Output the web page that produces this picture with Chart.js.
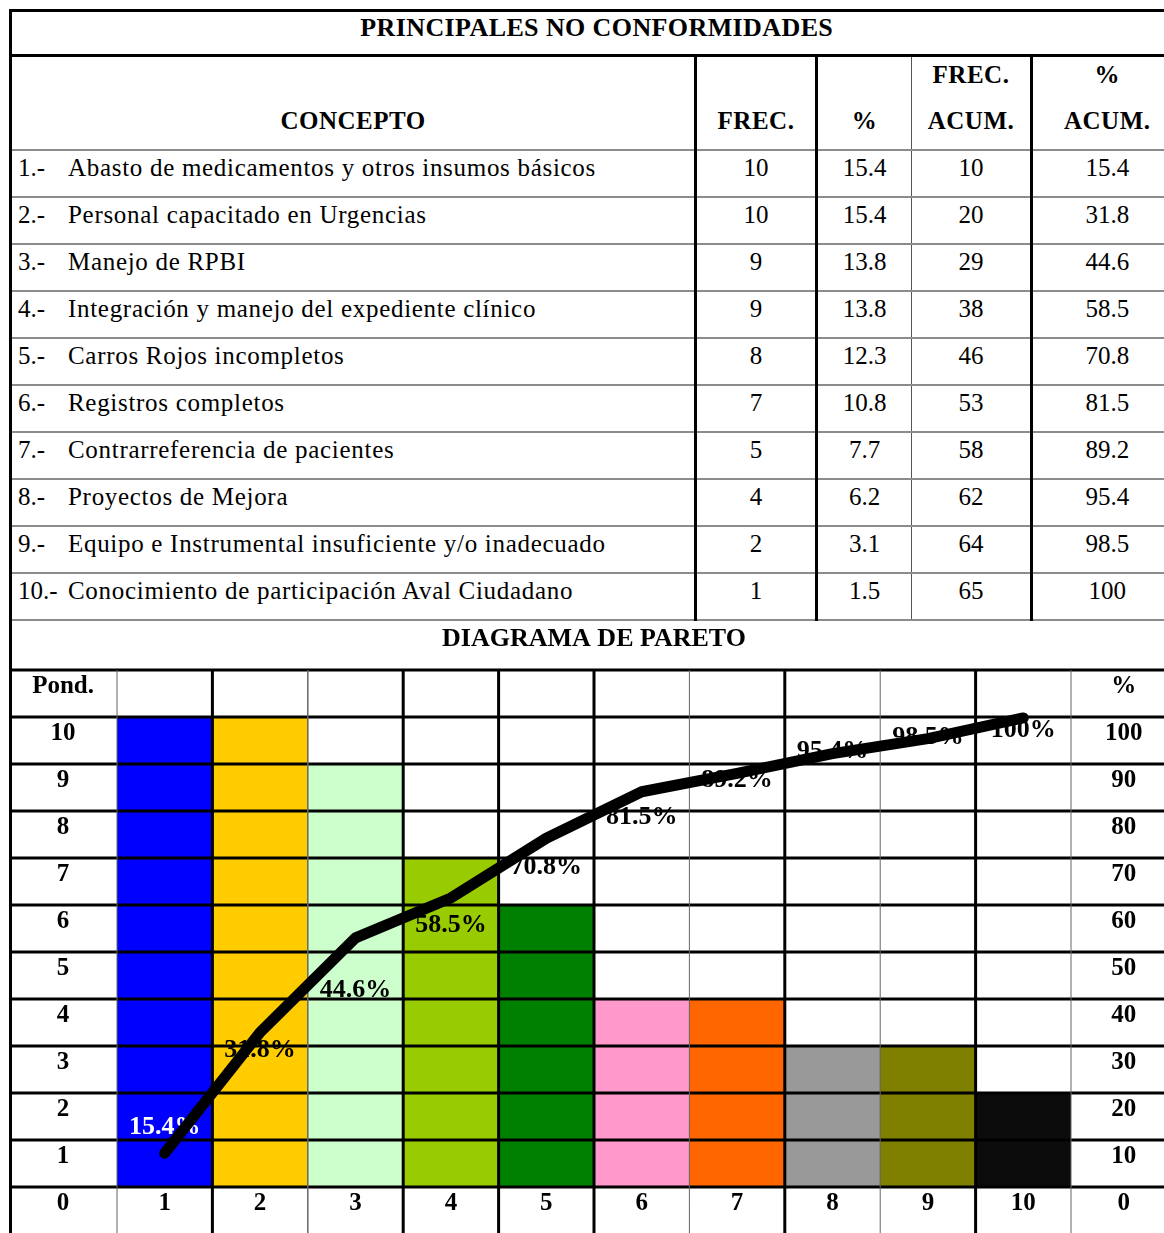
<!DOCTYPE html>
<html lang="es">
<head>
<meta charset="utf-8">
<title>Principales no conformidades</title>
<script src="https://cdn.jsdelivr.net/npm/chart.js@4.4.1/dist/chart.umd.min.js"></script>
<style>
  html, body { margin: 0; padding: 0; background: #fff; overflow: hidden; }
  body { width: 1164px; height: 1233px; position: relative; font-family: "Liberation Serif", "Times New Roman", serif; color: #000; }
  #tabla { position: absolute; left: 9px; top: 9px; width: 1171px; border-collapse: collapse; table-layout: fixed;
           font-size: 25px; border-top: 3px solid #000; border-left: 3px solid #000; }
  #tabla td { padding: 0; vertical-align: top; border-bottom: 2px solid #8c8c8c; }
  #tabla .titulo td { border-bottom: 3px solid #000; font-weight: bold; font-size: 26px; text-align: center;
                      height: 41px; line-height: 30px; padding-top: 1px; letter-spacing: 0.4px; }
  #tabla .enc td { font-weight: bold; text-align: center; letter-spacing: 0.5px; }
  .l { height: 46px; box-sizing: border-box; padding-top: 3px; line-height: 30px; }
  #tabla .fila td { height: 43px; line-height: 30px; padding-top: 2px; text-align: center; }
  #tabla .fila td.desc { text-align: left; padding-left: 6px; letter-spacing: 0.7px; white-space: nowrap; }
  .num { display: inline-block; width: 50px; letter-spacing: 0; }
  .c1, .c2, .c4 { border-left: 3px solid #000; }
  .c3 { border-left: 1px solid #555; }
  #grafica { position: absolute; left: 9px; top: 621px; }
</style>
</head>
<body>
<table id="tabla">
  <colgroup><col style="width:685px"><col style="width:121px"><col style="width:95px"><col style="width:120px"><col style="width:150px"></colgroup>
  <tbody id="cuerpo"></tbody>
</table>
<canvas id="grafica" width="1170" height="619"></canvas>
<script>
// datos de la tabla
const conceptos = [
  "Abasto de medicamentos y otros insumos básicos",
  "Personal capacitado en Urgencias",
  "Manejo de RPBI",
  "Integración y manejo del expediente clínico",
  "Carros Rojos incompletos",
  "Registros completos",
  "Contrarreferencia de pacientes",
  "Proyectos de Mejora",
  "Equipo e Instrumental insuficiente y/o inadecuado",
  "Conocimiento de participación Aval Ciudadano"
];
const frecuencia = [10, 10, 9, 9, 8, 7, 5, 4, 2, 1];
const porcentaje = ["15.4", "15.4", "13.8", "13.8", "12.3", "10.8", "7.7", "6.2", "3.1", "1.5"];
const frecAcum = [10, 20, 29, 38, 46, 53, 58, 62, 64, 65];
const pctAcum = [15.4, 31.8, 44.6, 58.5, 70.8, 81.5, 89.2, 95.4, 98.5, 100];

// datos del diagrama (como se ven dibujados)
const categorias = ["1", "2", "3", "4", "5", "6", "7", "8", "9", "10"];
const ponderacion = [10, 10, 9, 7, 6, 4, 4, 3, 3, 2];
const trazoLinea = [7.2, 32.9, 53, 61.5, 74.2, 84.1, 88, 92.2, 95.4, 99.8];

// colores de las barras
const colores = ["#0000ff", "#ffcc00", "#ccffcc", "#99cc00", "#008000", "#ff99cc", "#ff6600", "#999999", "#808000", "#0c0c0c"];
// grosor de las divisiones verticales de la cuadricula
const anchoDivisiones = [1, 3, 1.5, 3, 3, 3, 1, 3, 1, 3, 1];

// arma la tabla de arriba
const cuerpo = document.getElementById("cuerpo");
let html = '<tr class="titulo"><td colspan="5">PRINCIPALES NO CONFORMIDADES</td></tr>';
html += '<tr class="enc">' +
  '<td><div class="l"></div><div class="l">CONCEPTO</div></td>' +
  '<td class="c1"><div class="l"></div><div class="l">FREC.</div></td>' +
  '<td class="c2"><div class="l"></div><div class="l">%</div></td>' +
  '<td class="c3"><div class="l">FREC.</div><div class="l">ACUM.</div></td>' +
  '<td class="c4"><div class="l">%</div><div class="l">ACUM.</div></td></tr>';
conceptos.forEach((c, i) => {
  html += '<tr class="fila"><td class="desc"><span class="num">' + (i + 1) + '.-</span>' + c + '</td>' +
    '<td class="c1">' + frecuencia[i] + '</td>' +
    '<td class="c2">' + porcentaje[i] + '</td>' +
    '<td class="c3">' + frecAcum[i] + '</td>' +
    '<td class="c4">' + pctAcum[i] + '</td></tr>';
});
cuerpo.innerHTML = html;

// cuadricula y porcentajes: encima de las barras, debajo de la linea
const lineasTabla = {
  id: "lineasTabla",
  afterDatasetDraw(chart, args) {
    if (args.index !== 0) return;
    const { ctx, chartArea } = chart;
    const x = chart.scales.x, y = chart.scales.y, y1 = chart.scales.y1;
    const W = chart.width, H = chart.height;
    ctx.save();
    ctx.strokeStyle = "#000";
    ctx.lineWidth = 3;
    for (let v = 0; v <= 11; v++) {
      const py = y.getPixelForValue(v);
      ctx.beginPath(); ctx.moveTo(0, py); ctx.lineTo(W, py); ctx.stroke();
    }
    const paso = (chartArea.right - chartArea.left) / categorias.length;
    for (let i = 0; i <= categorias.length; i++) {
      const px = chartArea.left + i * paso;
      ctx.lineWidth = anchoDivisiones[i];
      ctx.strokeStyle = anchoDivisiones[i] > 2 ? "#000" : "#666";
      ctx.beginPath(); ctx.moveTo(px, chartArea.top); ctx.lineTo(px, H); ctx.stroke();
    }
    // borde izquierdo
    ctx.lineWidth = 3; ctx.strokeStyle = "#000";
    ctx.beginPath(); ctx.moveTo(1.5, 0); ctx.lineTo(1.5, H); ctx.stroke();

    // porcentajes acumulados
    ctx.font = 'bold 26px "Liberation Serif"';
    ctx.textAlign = "center";
    ctx.textBaseline = "middle";
    pctAcum.forEach((v, i) => {
      ctx.fillStyle = i === 0 ? "#fff" : "#000";
      ctx.fillText(v + "%", x.getPixelForValue(i), y1.getPixelForValue(v) + 13);
    });
    ctx.restore();
  }
};

const fuenteEjes = { family: '"Liberation Serif", serif', size: 25, weight: "bold" };

new Chart(document.getElementById("grafica"), {
  type: "bar",
  data: {
    labels: categorias,
    datasets: [{
      type: "bar",
      data: ponderacion,
      backgroundColor: colores,
      borderWidth: 0,
      barPercentage: 1,
      categoryPercentage: 1,
      yAxisID: "y",
      order: 2
    }, {
      type: "line",
      data: trazoLinea,
      yAxisID: "y1",
      borderColor: "#000",
      borderWidth: 11,
      borderCapStyle: "round",
      borderJoinStyle: "round",
      pointRadius: 0,
      tension: 0,
      order: 1
    }]
  },
  options: {
    responsive: false,
    animation: false,
    devicePixelRatio: 1,
    layout: { padding: 0 },
    plugins: {
      legend: { display: false },
      tooltip: { enabled: false },
      title: {
        display: true,
        text: "DIAGRAMA DE PARETO",
        color: "#000",
        font: { family: '"Liberation Serif", serif', size: 26, weight: "bold" },
        padding: { top: 1, bottom: 15 }
      }
    },
    scales: {
      x: {
        grid: { display: false, drawTicks: false },
        border: { display: false },
        ticks: { color: "#000", font: fuenteEjes, padding: 2, maxRotation: 0 },
        afterFit: s => { s.height = 53; }
      },
      y: {
        position: "left",
        min: 0, max: 11,
        grid: { display: false, drawTicks: false },
        border: { display: false },
        ticks: {
          stepSize: 1, maxTicksLimit: 20, color: "#000", font: fuenteEjes,
          crossAlign: "center", padding: 23, labelOffset: 17,
          callback: v => v === 11 ? "Pond." : v
        },
        afterFit: s => { s.width = 108; }
      },
      y1: {
        position: "right",
        min: 0, max: 110,
        grid: { display: false, drawTicks: false },
        border: { display: false },
        ticks: {
          stepSize: 10, maxTicksLimit: 20, color: "#000", font: fuenteEjes,
          crossAlign: "center", padding: 34, labelOffset: 17,
          callback: v => v === 110 ? "%" : v
        },
        afterFit: s => { s.width = 108; }
      }
    }
  },
  plugins: [lineasTabla]
});
</script>
</body>
</html>
